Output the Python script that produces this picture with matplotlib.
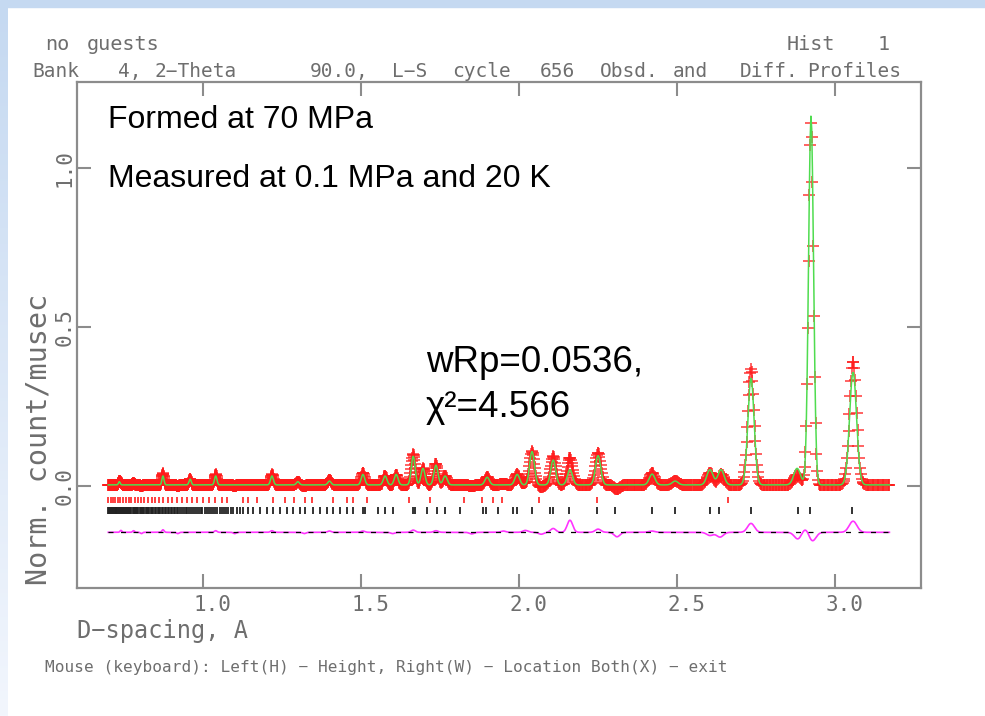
## GSAS powder pattern, obsd/calc/diff

import numpy as np
import matplotlib
matplotlib.use('Agg')
import matplotlib.pyplot as plt
import matplotlib.transforms as mtransforms
from matplotlib.patches import Rectangle

# peak list: d-spacing (A), height above background, rel. width
peak_d = [0.735, 0.873, 0.959, 1.040, 1.218, 1.300, 1.400, 1.506, 1.576, 1.611,
          1.665, 1.696, 1.737, 1.766, 1.899, 1.994, 2.041, 2.108, 2.161, 2.250,
          2.421, 2.494, 2.604, 2.639, 2.734, 2.880, 2.924, 3.057]
peak_h = [0.010, 0.028, 0.018, 0.028, 0.028, 0.010, 0.012, 0.033, 0.028, 0.033,
          0.090, 0.052, 0.062, 0.028, 0.024, 0.033, 0.105, 0.078, 0.048, 0.092,
          0.034, 0.012, 0.048, 0.048, 0.335, 0.052, 1.160, 0.355]
peak_w = [0.0037, 0.0037, 0.0037, 0.0037, 0.0037, 0.0037, 0.0037, 0.0037, 0.0037, 0.0037,
          0.0037, 0.0037, 0.0037, 0.0037, 0.0037, 0.0037, 0.0037, 0.0037, 0.0037, 0.0037,
          0.0037, 0.0037, 0.0037, 0.0037, 0.0036, 0.0037, 0.0027, 0.0036]
background = 0.004

# obs - calc features
diff_d = [0.740, 0.780, 0.805, 0.873, 0.920, 1.040, 1.100, 1.218, 1.320, 1.400,
          1.506, 1.600, 1.665, 1.737, 1.850, 1.950, 2.020, 2.070, 2.108, 2.161,
          2.250, 2.310, 2.420, 2.604, 2.636, 2.734, 2.883, 2.908, 2.927, 3.057]
diff_a = [0.006, 0.005, -0.004, 0.008, -0.004, 0.005, -0.004, 0.005, -0.004, 0.004,
          0.004, -0.004, 0.007, 0.005, -0.005, 0.004, 0.006, -0.006, 0.012, 0.038,
          0.010, -0.014, 0.004, -0.010, -0.015, 0.028, -0.022, 0.016, -0.030, 0.035]
diff_offset = -0.145

# reflection tick positions, phase 1 (red) and phase 2 (black)
ticks_red = [0.700, 0.708, 0.715, 0.722, 0.730, 0.738, 0.746, 0.755, 0.764, 0.773,
             0.783, 0.793, 0.803, 0.814, 0.825, 0.837, 0.849, 0.861, 0.874, 0.888,
             0.902, 0.917, 0.932, 0.948, 0.965, 0.982, 1.000, 1.018, 1.038, 1.060,
             1.076, 1.127, 1.142, 1.171, 1.222, 1.259, 1.288, 1.323, 1.345, 1.411,
             1.456, 1.475, 1.519, 1.652, 1.718, 1.826, 1.883, 1.918, 1.946, 2.063,
             2.247, 2.661]
ticks_black = [0.700, 0.703, 0.706, 0.709, 0.712, 0.715, 0.717, 0.720, 0.723, 0.726,
               0.728, 0.731, 0.734, 0.738, 0.741, 0.744, 0.747, 0.750, 0.752, 0.756,
               0.760, 0.763, 0.766, 0.770, 0.773, 0.777, 0.781, 0.784, 0.787, 0.791,
               0.795, 0.799, 0.802, 0.806, 0.810, 0.814, 0.818, 0.822, 0.826, 0.830,
               0.835, 0.839, 0.843, 0.847, 0.851, 0.856, 0.860, 0.865, 0.869, 0.874,
               0.879, 0.884, 0.888, 0.893, 0.897, 0.902, 0.907, 0.912, 0.917, 0.922,
               0.928, 0.933, 0.939, 0.945, 0.950, 0.956, 0.962, 0.968, 0.974, 0.980,
               0.986, 0.992, 0.998, 1.005, 1.011, 1.018, 1.024, 1.031, 1.038, 1.045,
               1.052, 1.059, 1.066, 1.073, 1.080, 1.088, 1.096, 1.108, 1.117, 1.127,
               1.142, 1.158, 1.180, 1.203, 1.222, 1.244, 1.266, 1.285, 1.307, 1.323,
               1.348, 1.370, 1.392, 1.411, 1.434, 1.456, 1.475, 1.506, 1.513, 1.554,
               1.576, 1.601, 1.665, 1.671, 1.709, 1.741, 1.766, 1.813, 1.886, 1.896,
               1.934, 1.981, 1.994, 2.041, 2.098, 2.108, 2.158, 2.247, 2.304, 2.421,
               2.494, 2.604, 2.633, 2.734, 2.883, 2.921, 3.054]

x_ticks = [1.0, 1.5, 2.0, 2.5, 3.0]
x_ticklabels = ['1.0', '1.5', '2.0', '2.5', '3.0']
y_ticks = [0.0, 0.5, 1.0]
y_ticklabels = ['0.0', '0.5', '1.0']

GRAY = '#6e6e6e'
FRAME = '#8c8c8c'
W, H = 985, 716

# TOF data grid (log spaced in d)
d = np.geomspace(0.700, 3.172, 1780)
calc = np.full_like(d, background)
for p, h, w in zip(peak_d, peak_h, peak_w):
    calc += h * np.exp(-0.5 * ((d - p) / (w * p)) ** 2)
diff = np.zeros_like(d)
for p, a in zip(diff_d, diff_a):
    diff += a * np.exp(-0.5 * ((d - p) / (0.0040 * p)) ** 2)
obs = calc + diff

fig = plt.figure(figsize=(W / 100, H / 100), dpi=100)
fig.patch.set_facecolor('white')

# blue slide border
fig.add_artist(Rectangle((0, 1 - 7 / H), 1, 7 / H, transform=fig.transFigure,
                         color='#c5d9f1', zorder=0))
bax = fig.add_axes([0, 0, 8 / W, 1 - 7 / H])
grad = np.linspace(0, 1, 256).reshape(-1, 1)
bax.imshow(grad, aspect='auto', cmap=matplotlib.colors.LinearSegmentedColormap.from_list(
    'edge', ['#c5d9f1', '#f2f6fd']))
bax.axis('off')

ax = fig.add_axes([77 / W, (H - 588) / H, (921 - 77) / W, (588 - 82) / H])
ax.set_xlim(0.601, 3.272)
ax.set_ylim(-0.32, 1.27)

ax.plot(d, obs, linestyle='none', marker='+', markersize=8, markeredgewidth=1.2,
        color='#ff1a1a', alpha=0.8, zorder=2)
ax.plot(d, calc, color='#4fdc4f', lw=1.1, zorder=3)

ax.vlines(ticks_red, -0.052, -0.033, color='#ff3030', lw=1.3)
ax.vlines(ticks_black, -0.086, -0.067, color='#222222', lw=1.3)

ax.plot([d[0], d[-1]], [diff_offset, diff_offset], color='black', lw=0.9,
        dashes=(4, 6), zorder=4)
ax.plot(d, diff + diff_offset, color='#ff33ff', lw=1.2, zorder=3)

for s in ax.spines.values():
    s.set_color(FRAME)
    s.set_linewidth(1.6)
ax.tick_params(direction='in', length=10, width=1.5, color=FRAME,
               top=True, right=True, labelcolor=GRAY)
ax.set_xticks(x_ticks)
ax.set_xticklabels(x_ticklabels, family='DejaVu Sans Mono', fontsize=15)
ax.set_yticks(y_ticks)
ax.set_yticklabels(y_ticklabels, family='DejaVu Sans Mono', fontsize=15,
                   rotation=90, va='center')
ax.tick_params(axis='x', pad=5)
ax.tick_params(axis='y', pad=2)
shift = mtransforms.ScaledTranslation(9 / 100, 0, fig.dpi_scale_trans)
for lab in ax.get_xticklabels():
    lab.set_transform(lab.get_transform() + shift)


def ptext(x, y, s, **kw):
    fig.text(x / W, 1 - y / H, s, **kw)


mono = dict(family='DejaVu Sans Mono', color=GRAY, va='baseline', ha='left')

# GSAS header
for word, x in [('no', 45), ('guests', 87), ('Hist', 787), ('1', 878)]:
    ptext(x, 50, word, fontsize=14.5, **mono)
for word, x in [('Bank', 32), ('4,', 118), ('2−Theta', 155), ('90.0,', 310),
                ('L−S', 392), ('cycle', 452), ('656', 540), ('Obsd.', 600),
                ('and', 673), ('Diff.', 740), ('Profiles', 807)]:
    ptext(x, 77, word, fontsize=14, **mono)

ptext(77, 638, 'D−spacing, A', fontsize=17, **mono)
ptext(39, 585, 'Norm. count/musec', family='DejaVu Sans Mono', color=GRAY,
      fontsize=20.5, rotation=90, ha='center', va='bottom')
ptext(45, 672, 'Mouse (keyboard): Left(H) − Height, Right(W) − Location Both(X) − exit',
      fontsize=11.6, **mono)

# slide annotations
arial = dict(family='Liberation Sans', color='black', va='baseline', ha='left')
ptext(108, 128, 'Formed at 70 MPa', fontsize=23, **arial)
ptext(108, 187, 'Measured at 0.1 MPa and 20 K', fontsize=23, **arial)
ptext(426, 372, 'wRp=0.0536,', fontsize=26.5, **arial)
ptext(426, 417, 'χ²=4.566', fontsize=26.5, **arial)

fig.savefig('out.png', dpi=100)
